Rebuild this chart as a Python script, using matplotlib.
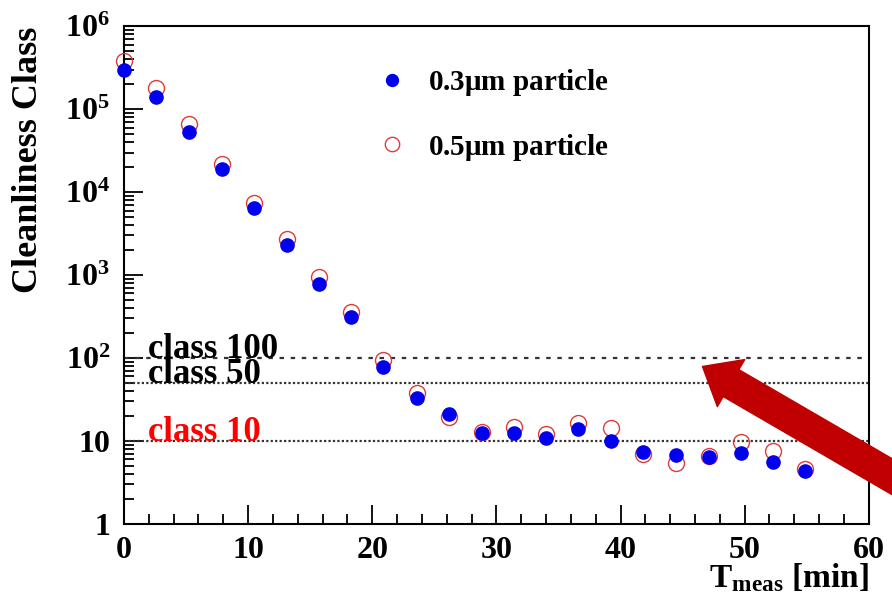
import numpy as np
import matplotlib
matplotlib.use('Agg')
import matplotlib.pyplot as plt
from matplotlib.ticker import FuncFormatter, LogLocator, MultipleLocator

plt.rcParams['font.family'] = 'Liberation Serif'
plt.rcParams['font.weight'] = 'bold'
plt.rcParams['axes.labelweight'] = 'bold'
plt.rcParams['mathtext.fontset'] = 'custom'
plt.rcParams['mathtext.rm'] = 'Liberation Serif:bold'
plt.rcParams['mathtext.it'] = 'Liberation Serif:bold'
plt.rcParams['mathtext.bf'] = 'Liberation Serif:bold'

# measurement times [min]
t_meas = [0, 2.6, 5.2, 7.9, 10.5, 13.1, 15.7, 18.3, 20.9, 23.6, 26.2,
          28.8, 31.4, 34.0, 36.6, 39.2, 41.8, 44.5, 47.1, 49.7, 52.3, 54.9]
# cleanliness class for 0.3um particles
class_03 = [3.0e5, 1.4e5, 5.3e4, 1.9e4, 6.4e3, 2.3e3, 780, 310, 78, 33, 21,
            12.5, 12.5, 10.9, 14, 9.9, 7.4, 6.8, 6.4, 7.2, 5.6, 4.3]
# cleanliness class for 0.5um particles
class_05 = [3.8e5, 1.8e5, 6.6e4, 2.2e4, 7.4e3, 2.7e3, 950, 356, 95, 38, 19.5,
            12.8, 14.7, 12.0, 16.5, 14.4, 6.9, 5.4, 6.6, 9.7, 7.6, 4.6]

class_levels = [100, 50, 10]
class_labels = ['class 100', 'class 50', 'class 10']
class_colors = ['black', 'black', 'red']
class_dashes = [(2, 3), (1, 1), (1, 1)]

fig = plt.figure(figsize=(8.92, 5.96), dpi=100)
ax = fig.add_axes([0.139, 0.121, 0.835, 0.835])

ax.plot(t_meas, class_03, 'o', color='#0000ee', ms=9.5, mec='#0000ee',
        label=r'0.3$\mu$m particle', clip_on=False, zorder=4)
ax.plot(t_meas, class_05, 'o', mfc='none', mec='#e03a3a', ms=11.5, mew=1.0,
        label=r'0.5$\mu$m particle', clip_on=False, zorder=3)

for lev, lab, col, dsh in zip(class_levels, class_labels, class_colors, class_dashes):
    ax.axhline(lev, color='#333333', lw=1.6, dashes=dsh, zorder=2)
    ax.text(1.9, lev, lab, color=col, fontsize=25, va='baseline', ha='left', zorder=5)

ax.set_xlim(0, 60)
ax.set_ylim(1, 1e6)
ax.set_yscale('log')

ax.xaxis.set_major_locator(MultipleLocator(10))
ax.xaxis.set_minor_locator(MultipleLocator(2))
ax.yaxis.set_major_locator(LogLocator(base=10, numticks=10))
ax.yaxis.set_minor_locator(LogLocator(base=10, subs=np.arange(2, 10), numticks=20))

def ylab(v, pos):
    if v == 1:
        return '1'
    if v == 10:
        return '10'
    return r'$10^{%d}$' % int(round(np.log10(v)))

ax.yaxis.set_major_formatter(FuncFormatter(ylab))
ax.tick_params(which='both', direction='in', top=False, right=False, labelsize=23)
ax.tick_params(which='major', length=14, width=1.3)
ax.tick_params(which='minor', length=7, width=1.3)
ax.tick_params(axis='x', pad=9)
ax.tick_params(axis='y', pad=10)
for s in ax.spines.values():
    s.set_linewidth(1.5)

ax.set_ylabel('Cleanliness Class', fontsize=26, loc='top')
ax.yaxis.set_label_coords(-0.106, 1.0)
ax.set_xlabel(r'$\mathrm{T}_{\mathrm{meas}}$ [min]', fontsize=24, loc='right')
ax.xaxis.label.set_va('baseline')
ax.xaxis.set_label_coords(1.0, -0.127)

ax.legend(loc='upper left', bbox_to_anchor=(0.34, 0.918), frameon=False, fontsize=21,
          borderpad=0, borderaxespad=0, handlelength=1.0, handletextpad=0.75,
          labelspacing=1.15, markerscale=0.9)

# big red arrow pointing at the class-100 region
ax.annotate('', xy=(46.6, 79), xycoords='data', xytext=(915, 106), textcoords='figure pixels',
            arrowprops=dict(arrowstyle='simple,head_length=0.85,head_width=1.4,tail_width=0.8',
                            color='#c00000', shrinkA=0, shrinkB=0, mutation_scale=28),
            annotation_clip=False, zorder=6)

fig.savefig('out.png', dpi=100)
